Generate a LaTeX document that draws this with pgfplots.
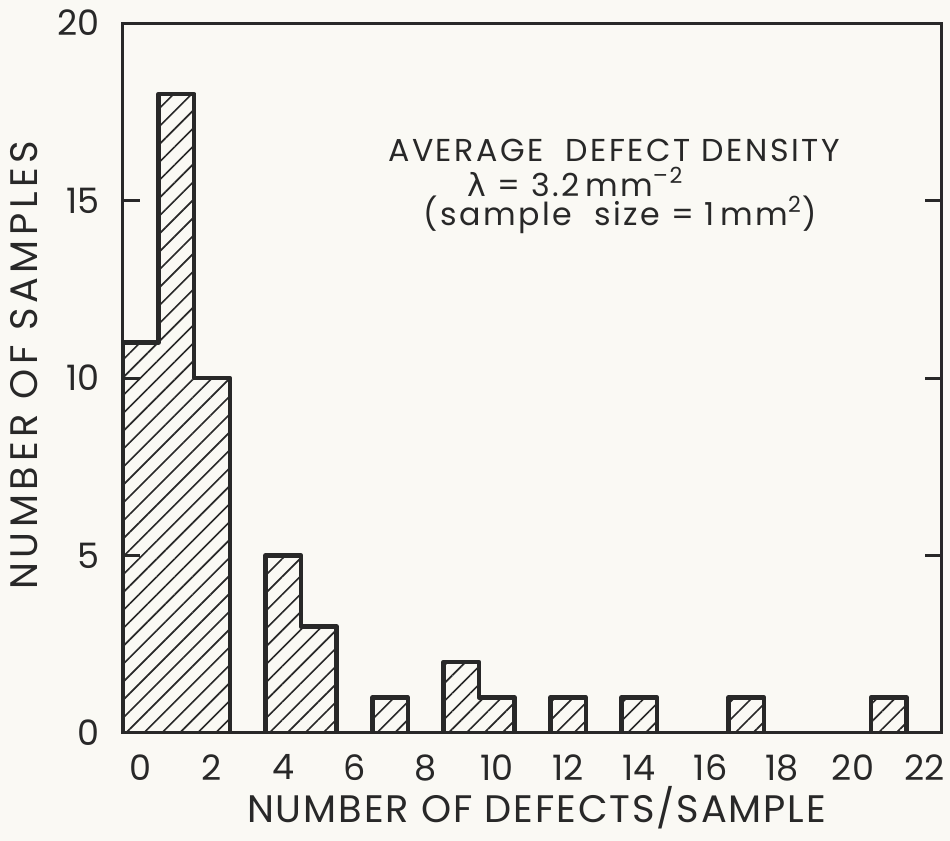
\documentclass[border=0pt]{standalone}
\usepackage{pgfplots}
\pgfplotsset{compat=1.18}
\usepackage{fontspec}
\setmainfont{Poppins}
\newfontfamily\dejavu{DejaVu Sans}
\usetikzlibrary{patterns.meta,backgrounds}
\definecolor{ink}{RGB}{40,40,40}
\definecolor{paper}{RGB}{250,249,244}
\newcommand\annfont{\fontsize{9.5}{11}\selectfont\addfontfeature{LetterSpace=8}}
\begin{document}
\begin{tikzpicture}
\begin{axis}[
  scale only axis, width=245.7pt, height=213pt,
  xmin=-0.5, xmax=22.5, ymin=0, ymax=20,
  xtick={0,2,...,22}, ytick={0,5,10,15,20},
  tick align=inside, major tick length=5pt,
  xtick style={draw=none},
  ytick style={line width=0.9pt, draw=ink},
  axis line style={line width=0.9pt, draw=ink},
  tick label style={font=\fontsize{10.5}{12}\selectfont, text=ink},
  /pgf/number format/assume math mode=true,
  yticklabel style={xshift=-3.5pt},
  xticklabel style={yshift=-3pt},
  xlabel={NUMBER OF DEFECTS/SAMPLE},
  ylabel={NUMBER OF SAMPLES},
  xlabel style={font=\fontsize{11.5}{13}\selectfont\addfontfeature{LetterSpace=5}, text=ink,
    at={(rel axis cs:0.505,-0.1056)}, anchor=center},
  ylabel style={font=\fontsize{11.5}{13}\selectfont\addfontfeature{LetterSpace=12}, text=ink,
    at={(rel axis cs:-0.121,0.518)}, anchor=center},
  clip=false,
  outline/.style={const plot, draw=ink, line width=1.35pt, line join=round, mark=none},
]
% hatched bars (fill only)
\addplot[ybar, bar width=1, draw=none,
  pattern={Lines[angle=45, distance=3.8pt, line width=0.5pt]}, pattern color=ink]
  coordinates {(0,11)(1,18)(2,10)(4,5)(5,3)(7,1)(9,2)(10,1)(12,1)(14,1)(17,1)(21,1)};
% outer outlines of the histogram groups
\addplot[outline] coordinates {(-0.5,0)(-0.5,11)(0.5,18)(1.5,10)(2.5,0)};
\addplot[outline] coordinates {(3.5,0)(3.5,5)(4.5,3)(5.5,0)};
\addplot[outline] coordinates {(6.5,0)(6.5,1)(7.5,0)};
\addplot[outline] coordinates {(8.5,0)(8.5,2)(9.5,1)(10.5,0)};
\addplot[outline] coordinates {(11.5,0)(11.5,1)(12.5,0)};
\addplot[outline] coordinates {(13.5,0)(13.5,1)(14.5,0)};
\addplot[outline] coordinates {(16.5,0)(16.5,1)(17.5,0)};
\addplot[outline] coordinates {(20.5,0)(20.5,1)(21.5,0)};
\coordinate (ll) at (rel axis cs:0,0);
\node[font=\annfont, text=ink, inner sep=0pt] at (axis cs:13.29,16.42) {AVERAGE\ \ DEFECT DENSITY};
\node[font=\annfont, text=ink, inner sep=0pt] at (axis cs:12.22,15.52) {{\dejavu λ} = 3.2\,mm\textsuperscript{–2}};
\node[font=\annfont, text=ink, inner sep=0pt] at (axis cs:13.46,14.59) {(sample\ \ size = 1\,mm\textsuperscript{2})};
\end{axis}
\pgfresetboundingbox
\path (ll) ++(-36.9pt,-32.4pt) rectangle ++(285pt,252.3pt);
\begin{scope}[on background layer]
\fill[paper] (ll) ++(-36.9pt,-32.4pt) rectangle ++(285pt,252.3pt);
\end{scope}
\end{tikzpicture}
\end{document}
